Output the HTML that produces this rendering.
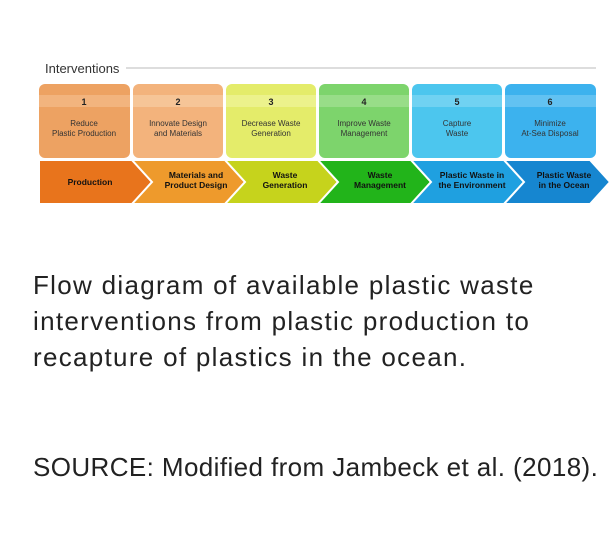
<!DOCTYPE html>
<html><head><style>
body{margin:0;background:#fff;width:612px;height:533px;overflow:hidden;font-family:"Liberation Sans",sans-serif}
.cap{position:absolute;left:33px;font-size:26px;color:#222;line-height:36px;white-space:nowrap}
</style></head><body>
<svg width="612" height="215" style="position:absolute;left:0;top:0" font-family="Liberation Sans, sans-serif">
<text x="45" y="73" font-size="13" fill="#333">Interventions</text>
<line x1="126" y1="68" x2="596" y2="68" stroke="#bbb" stroke-width="1"/>
<g font-size="8" text-anchor="middle" fill="#333">
<rect x="39" y="84" width="91" height="74" rx="6" fill="#eda262"/><rect x="39" y="95" width="91" height="12" fill="#f2b47e"/>
<rect x="133" y="84" width="90" height="74" rx="6" fill="#f3b37c"/><rect x="133" y="95" width="90" height="12" fill="#f6c597"/>
<rect x="226" y="84" width="90" height="74" rx="6" fill="#e4ec6a"/><rect x="226" y="95" width="90" height="12" fill="#ecf28c"/>
<rect x="319" y="84" width="90" height="74" rx="6" fill="#7dd46c"/><rect x="319" y="95" width="90" height="12" fill="#98dd88"/>
<rect x="412" y="84" width="90" height="74" rx="6" fill="#4cc6ee"/><rect x="412" y="95" width="90" height="12" fill="#70d2f2"/>
<rect x="505" y="84" width="91" height="74" rx="6" fill="#3cb2ee"/><rect x="505" y="95" width="91" height="12" fill="#62c2f2"/>
<g font-weight="bold" font-size="9" fill="#222">
<text x="84" y="105">1</text><text x="178" y="105">2</text><text x="271" y="105">3</text><text x="364" y="105">4</text><text x="457" y="105">5</text><text x="550" y="105">6</text></g>
<text x="84" y="126">Reduce</text><text x="84" y="136">Plastic Production</text>
<text x="178" y="126">Innovate Design</text><text x="178" y="136">and Materials</text>
<text x="271" y="126">Decrease Waste</text><text x="271" y="136">Generation</text>
<text x="364" y="126">Improve Waste</text><text x="364" y="136">Management</text>
<text x="457" y="126">Capture</text><text x="457" y="136">Waste</text>
<text x="550" y="126">Minimize</text><text x="550" y="136">At-Sea Disposal</text>
</g>
<g stroke="#fff" stroke-width="2">
<polygon points="39,160 132,160 152,182 132,204 39,204" fill="#e8741c"/>
<polygon points="132,160 225,160 245,182 225,204 132,204 152,182" fill="#ee9a2c"/>
<polygon points="225,160 318,160 338,182 318,204 225,204 245,182" fill="#c6d31c"/>
<polygon points="318,160 411,160 431,182 411,204 318,204 338,182" fill="#22b41a"/>
<polygon points="411,160 504,160 524,182 504,204 411,204 431,182" fill="#1fa0e0"/>
<polygon points="504,160 590,160 610,182 590,204 504,204 524,182" fill="#1686d0"/>
</g>
<g font-size="8.5" font-weight="bold" text-anchor="middle" fill="#111">
<text x="90" y="185">Production</text>
<text x="196" y="178">Materials and</text><text x="196" y="188">Product Design</text>
<text x="285" y="178">Waste</text><text x="285" y="188">Generation</text>
<text x="380" y="178">Waste</text><text x="380" y="188">Management</text>
<text x="472" y="178">Plastic Waste in</text><text x="472" y="188">the Environment</text>
<text x="564" y="178">Plastic Waste</text><text x="564" y="188">in the Ocean</text>
</g>
</svg>
<div class="cap" style="top:267px;letter-spacing:1.3px">Flow diagram of available plastic waste<br>interventions from plastic production to<br>recapture of plastics in the ocean.</div>
<div class="cap" style="top:449px;letter-spacing:0.4px">SOURCE: Modified from Jambeck et al. (2018).</div>
</body></html>
